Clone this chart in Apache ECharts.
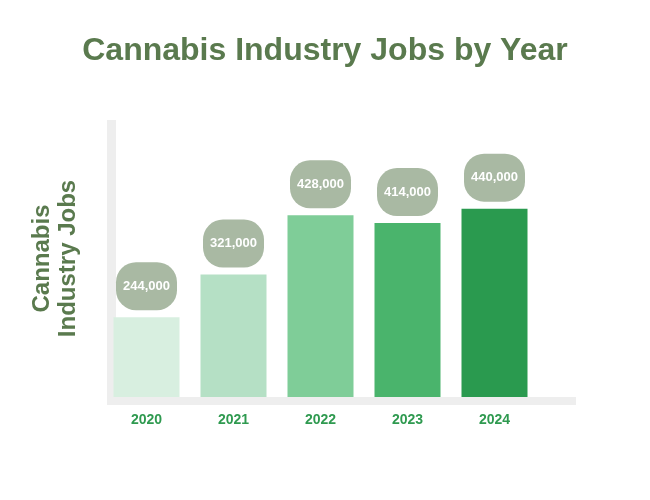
<!DOCTYPE html>
<html><head><meta charset="utf-8">
<script src="https://cdn.jsdelivr.net/npm/echarts@6/dist/echarts.min.js"></script>
<style>html,body{margin:0;padding:0;background:#fff}#c{width:650px;height:500px}</style>
</head><body><div id="c"></div>
<script>
const categories = ['2020','2021','2022','2023','2024'];
const jobs = [244000, 321000, 428000, 414000, 440000];
const barColors = ['#d8efe0','#b5e0c5','#7fcd98','#4ab46c','#2a9a4f'];
const chart = echarts.init(document.getElementById('c'));
chart.setOption({
  animation:false,
  title:{text:'Cannabis Industry Jobs by Year',left:'center',top:30,
    textStyle:{fontFamily:'Liberation Sans',fontWeight:'bold',fontSize:32,color:'#5a7a4e'}},
  graphic:[
    {type:'rect',shape:{x:107,y:120,width:9,height:285},style:{fill:'#eeeeee'}},
    {type:'rect',shape:{x:107,y:397,width:469,height:8},style:{fill:'#eeeeee'}}
  ],
  grid:{left:103,right:112,top:120,bottom:103},
  xAxis:{type:'category',data:categories,axisLine:{show:false},axisTick:{show:false},
    axisLabel:{margin:16,fontFamily:'Liberation Sans',fontWeight:'bold',fontSize:14,color:'#2f9a50'}},
  yAxis:{type:'value',min:100000,max:600000,splitLine:{show:false},axisLabel:{show:false},
    axisLine:{show:false},axisTick:{show:false},
    name:'Cannabis\nIndustry Jobs',nameLocation:'middle',nameGap:22,nameRotate:90,
    nameTextStyle:{fontFamily:'Liberation Sans',fontWeight:'bold',fontSize:24,lineHeight:26,color:'#5a7a4e'}},
  series:[{type:'bar',barWidth:66,
    data:jobs.map((v,i)=>({value:v,itemStyle:{color:barColors[i]}})),
    label:{show:true,position:'top',distance:7,
      formatter:p=>p.value.toLocaleString('en-US'),
      backgroundColor:'#a9b9a3',borderRadius:20,width:61,height:48,lineHeight:48,align:'center',
      color:'#fff',fontFamily:'Liberation Sans',fontWeight:'bold',fontSize:13}}]
});
</script></body></html>
